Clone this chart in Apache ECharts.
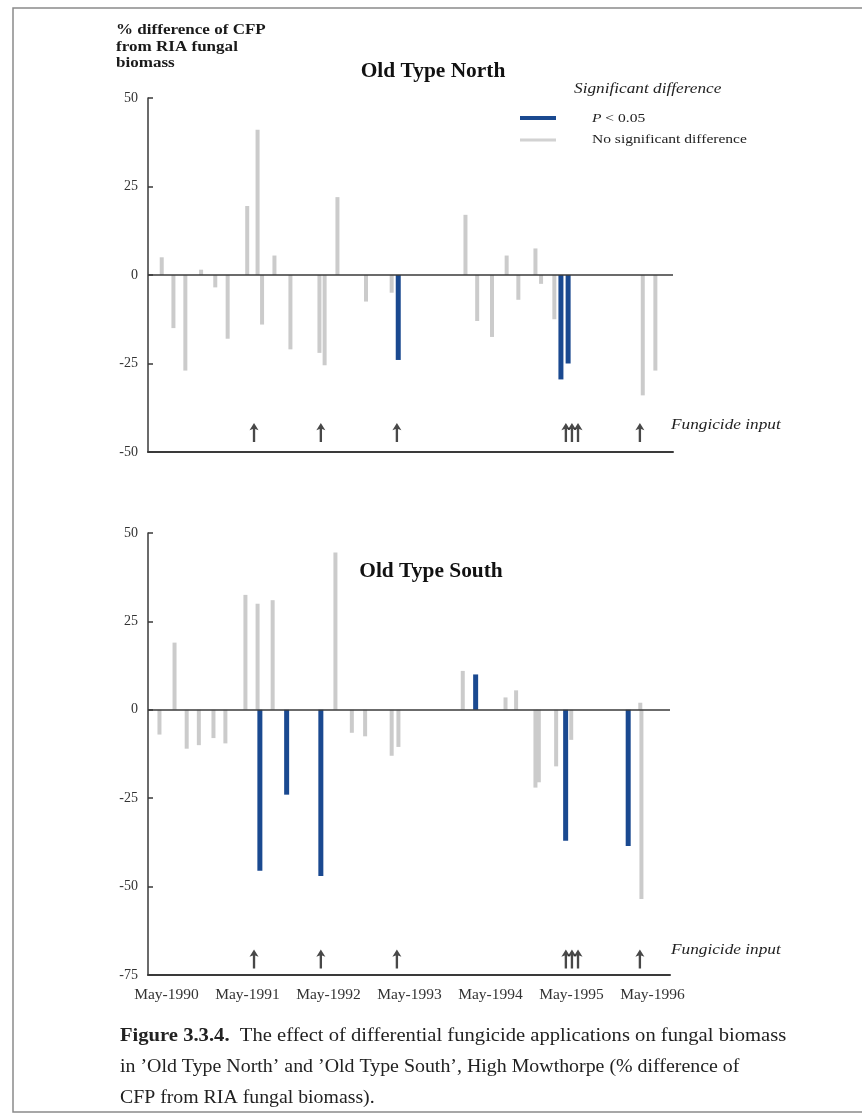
<!DOCTYPE html>
<html>
<head>
<meta charset="utf-8">
<script src="https://cdn.jsdelivr.net/npm/echarts@6/dist/echarts.min.js"></script>
<style>html,body{margin:0;padding:0;background:#fff;}#c{width:862px;height:1116px;}</style>
</head>
<body>
<div id="c"></div>
<script>
// ---- data ----
const northDates = ['1990-04-12','1990-06-04','1990-07-27','1990-10-07','1990-12-10','1991-02-05','1991-05-02','1991-06-18','1991-07-08','1991-09-03','1991-11-14','1992-03-23','1992-04-16','1992-06-13','1992-10-20','1993-02-14','1993-03-11','1994-01-12','1994-03-04','1994-05-10','1994-07-15','1994-09-07','1994-11-23','1994-12-18','1995-02-17','1995-03-14','1995-04-16','1996-03-20','1996-05-16'];
const northValues = [5,-15,-27,1.5,-3.5,-18,19.5,41,-14,5.5,-21,-22,-25.5,22,-7.5,-5,-24,17,-13,-17.5,5.5,-7,7.5,-2.5,-12.5,-29.5,-25,-34,-27];
const northSignificant = [0,0,0,0,0,0,0,0,0,0,0,0,0,0,0,0,1,0,0,0,0,0,0,0,0,1,1,0,0];

const southDates = ['1990-04-02','1990-06-09','1990-08-03','1990-09-27','1990-12-02','1991-01-25','1991-04-24','1991-06-18','1991-06-26','1991-08-25','1991-10-25','1992-03-27','1992-06-04','1992-08-17','1992-10-16','1993-02-14','1993-03-14','1993-12-30','1994-02-25','1994-07-10','1994-08-27','1994-11-23','1994-12-08','1995-02-25','1995-04-05','1995-05-02','1996-01-13','1996-03-09','1996-03-14'];
const southValues = [-7,19,-11,-10,-8,-9.5,32.5,30,-45.5,31,-24,-47,44.5,-6.5,-7.5,-13,-10.5,11,10,3.5,5.5,-22,-20.5,-16,-37,-8.5,-38.5,2,-53.5];
const southSignificant = [0,0,0,0,0,0,0,0,1,0,1,1,0,0,0,0,0,0,1,0,0,0,0,0,1,0,1,0,0];

const fungicideDates = ['1991-05-30','1992-03-27','1993-03-05','1995-04-06','1995-05-03','1995-05-30','1996-03-05'];

const xTickDates = ['1990-05-01','1991-05-01','1992-05-01','1993-05-01','1994-05-01','1995-05-01','1996-05-01'];
const xTickLabels = ['May-1990','May-1991','May-1992','May-1993','May-1994','May-1995','May-1996'];

// ---- helpers ----
function toMonth(s){const p=s.split('-').map(Number);return (p[0]-1990)*12+(p[1]-1)+(p[2]-1)/30;}
const GREY='#cbcbcb', BLUE='#1a4990', AX='#3a3a3a';
const SERIF='"Liberation Serif", "DejaVu Serif", serif';
function barData(dates, vals, sig, want){
  const out=[];
  dates.forEach((d,i)=>{ if(!!sig[i]===want) out.push([toMonth(d), vals[i]]); });
  return out;
}
const xTickVals = xTickDates.map(toMonth);
const arrowPath='path://M5,0 L10,7.5 L6.3,6.3 L6.3,20 L3.7,20 L3.7,6.3 L0,7.5 Z';

const chart = echarts.init(document.getElementById('c'), null, {renderer:'canvas'});
const xMin = 1.26, pxPerMonth = 6.75;
function xAxisDef(gi, width, showLabels){
  return {
    type:'value', gridIndex:gi, min:xMin, max:xMin+width/pxPerMonth,
    axisLine:{show:true, onZero:false, lineStyle:{color:AX, width:2}},
    axisTick:{show:false}, splitLine:{show:false},
    axisLabel: showLabels ? {
      show:true, customValues:xTickVals, margin:12,
      fontFamily:SERIF, fontSize:15.5, color:'#333',
      formatter:function(v){const i=xTickVals.findIndex(t=>Math.abs(t-v)<1e-6);return i>=0?xTickLabels[i]:'';}
    } : {show:false}
  };
}
function yAxisDef(gi, min, max){
  return {
    type:'value', gridIndex:gi, min:min, max:max, interval:25,
    axisLine:{show:true, lineStyle:{color:AX, width:1.5}},
    axisTick:{show:true, inside:true, length:5, lineStyle:{color:AX, width:1.5}},
    splitLine:{show:false},
    axisLabel:{fontFamily:SERIF, fontSize:14, color:'#333', margin:10}
  };
}
function zeroLine(){
  return {silent:true, symbol:'none', label:{show:false},
    lineStyle:{color:AX, width:1.5, type:'solid'}, data:[{yAxis:0}]};
}
function arrows(gi, yv){
  return {type:'scatter', xAxisIndex:gi, yAxisIndex:gi, symbol:arrowPath, symbolSize:[9,19],
    itemStyle:{color:'#1a1a1a'}, silent:true,
    data:fungicideDates.map(d=>[toMonth(d), yv])};
}
function txt(x,y,text,font,sx,extraStyle){
  return {type:'text', x:x, y:y, scaleX:sx,
    style:Object.assign({text:text, font:font, fill:'#222', textVerticalAlign:'middle'}, extraStyle||{})};
}

const option = {
  backgroundColor:'#ffffff',
  animation:false,
  grid:[
    {left:148, top:98, width:525, height:354},
    {left:148, top:533, width:522, height:442}
  ],
  xAxis:[xAxisDef(0,525,false), xAxisDef(1,522,true)],
  yAxis:[yAxisDef(0,-50,50), yAxisDef(1,-75,50)],
  series:[
    {type:'bar', xAxisIndex:0, yAxisIndex:0, barWidth:4, barGap:'-100%', itemStyle:{color:GREY},
      data:barData(northDates,northValues,northSignificant,false), markLine:zeroLine()},
    {type:'bar', xAxisIndex:0, yAxisIndex:0, barWidth:5, barGap:'-100%', itemStyle:{color:BLUE},
      data:barData(northDates,northValues,northSignificant,true)},
    arrows(0,-44.5),
    {type:'bar', xAxisIndex:1, yAxisIndex:1, barWidth:4, barGap:'-100%', itemStyle:{color:GREY},
      data:barData(southDates,southValues,southSignificant,false), markLine:zeroLine()},
    {type:'bar', xAxisIndex:1, yAxisIndex:1, barWidth:5, barGap:'-100%', itemStyle:{color:BLUE},
      data:barData(southDates,southValues,southSignificant,true)},
    arrows(1,-70.5)
  ],
  graphic:[
    {type:'rect', shape:{x:13,y:8,width:900,height:1104}, style:{fill:'none', stroke:'#8a8a8a', lineWidth:1.5}, silent:true},
    {type:'text', x:116, y:22, scaleX:1.1, style:{text:'% difference of CFP\nfrom RIA fungal\nbiomass', font:'bold 15.5px '+SERIF, fill:'#1a1a1a', lineHeight:16.5}},
    {type:'text', x:433, y:72, scaleX:1.07, style:{text:'Old Type North', font:'bold 20px '+SERIF, fill:'#111', textAlign:'center', textVerticalAlign:'middle'}},
    {type:'text', x:431, y:572, scaleX:1.07, style:{text:'Old Type South', font:'bold 20px '+SERIF, fill:'#111', textAlign:'center', textVerticalAlign:'middle'}},
    txt(574, 89, 'Significant difference', 'italic 15px '+SERIF, 1.15),
    {type:'line', shape:{x1:520,y1:118,x2:556,y2:118}, style:{stroke:BLUE, lineWidth:4}},
    {type:'line', shape:{x1:520,y1:140,x2:556,y2:140}, style:{stroke:'#d2d2d2', lineWidth:3}},
    txt(592, 118, '{i|P} < 0.05', '13.5px '+SERIF, 1.15, {rich:{i:{fontStyle:'italic', fontFamily:SERIF, fontSize:13.5}}}),
    txt(592, 139, 'No significant difference', '13.5px '+SERIF, 1.15),
    txt(671, 425, 'Fungicide input', 'italic 15px '+SERIF, 1.15),
    txt(671, 950, 'Fungicide input', 'italic 15px '+SERIF, 1.15),
    txt(120, 1036, '{b|Figure 3.3.4.}  The effect of differential fungicide applications on fungal biomass', '18px '+SERIF, 1.145, {rich:{b:{fontWeight:'bold', fontFamily:SERIF, fontSize:18}}}),
    txt(120, 1067, "in \u2019Old Type North\u2019 and \u2019Old Type South\u2019, High Mowthorpe (% difference of", '18px '+SERIF, 1.105),
    txt(120, 1098, 'CFP from RIA fungal biomass).', '18px '+SERIF, 1.1)
  ]
};
chart.setOption(option);
</script>
</body>
</html>
